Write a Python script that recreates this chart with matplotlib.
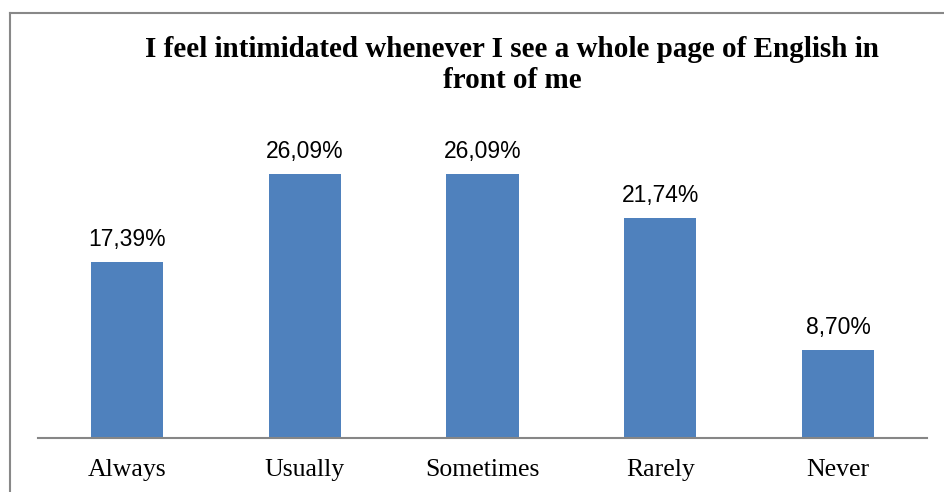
import matplotlib.pyplot as plt
from matplotlib.lines import Line2D

# datos de la encuesta
categorias = ["Always", "Usually", "Sometimes", "Rarely", "Never"]
porcentajes = [17.39, 26.09, 26.09, 21.74, 8.70]
titulo = "I feel intimidated whenever I see a whole page of English in\nfront of me"

fig = plt.figure(figsize=(9.44, 4.92), dpi=100)
ax = fig.add_axes([38 / 944, 54 / 492, 889 / 944, 303.6 / 492])

x = range(len(categorias))
ax.bar(x, porcentajes, width=0.405, color="#4F81BD")

# etiquetas con el valor encima de cada barra
for i, v in zip(x, porcentajes):
    ax.annotate(("%.2f%%" % v).replace(".", ","), (i, v), xytext=(0, 8),
                textcoords="offset points", ha="center", va="bottom",
                fontsize=16.5, family="Liberation Sans")

ax.set_xlim(-0.5, len(categorias) - 0.5)
ax.set_ylim(0, 30)
ax.set_xticks(list(x))
ax.set_xticklabels(categorias, fontsize=18.5, family="Liberation Serif")
ax.tick_params(axis="x", length=0, pad=15)
ax.set_yticks([])
for lado in ["top", "right", "left"]:
    ax.spines[lado].set_visible(False)
ax.spines["bottom"].set_color("#868686")
ax.spines["bottom"].set_linewidth(1.5)

fig.text(512 / 944, 1 - 65 / 492, titulo, ha="center", va="center",
         fontsize=21, fontweight="bold", family="Liberation Serif",
         linespacing=1.22)

# marco gris del grafico
fig.add_artist(Line2D([10 / 944, 10 / 944], [0, 1 - 13 / 492], color="#888888", lw=1.5))
fig.add_artist(Line2D([10 / 944, 1], [1 - 13 / 492, 1 - 13 / 492], color="#888888", lw=1.5))

plt.savefig("out.png")
